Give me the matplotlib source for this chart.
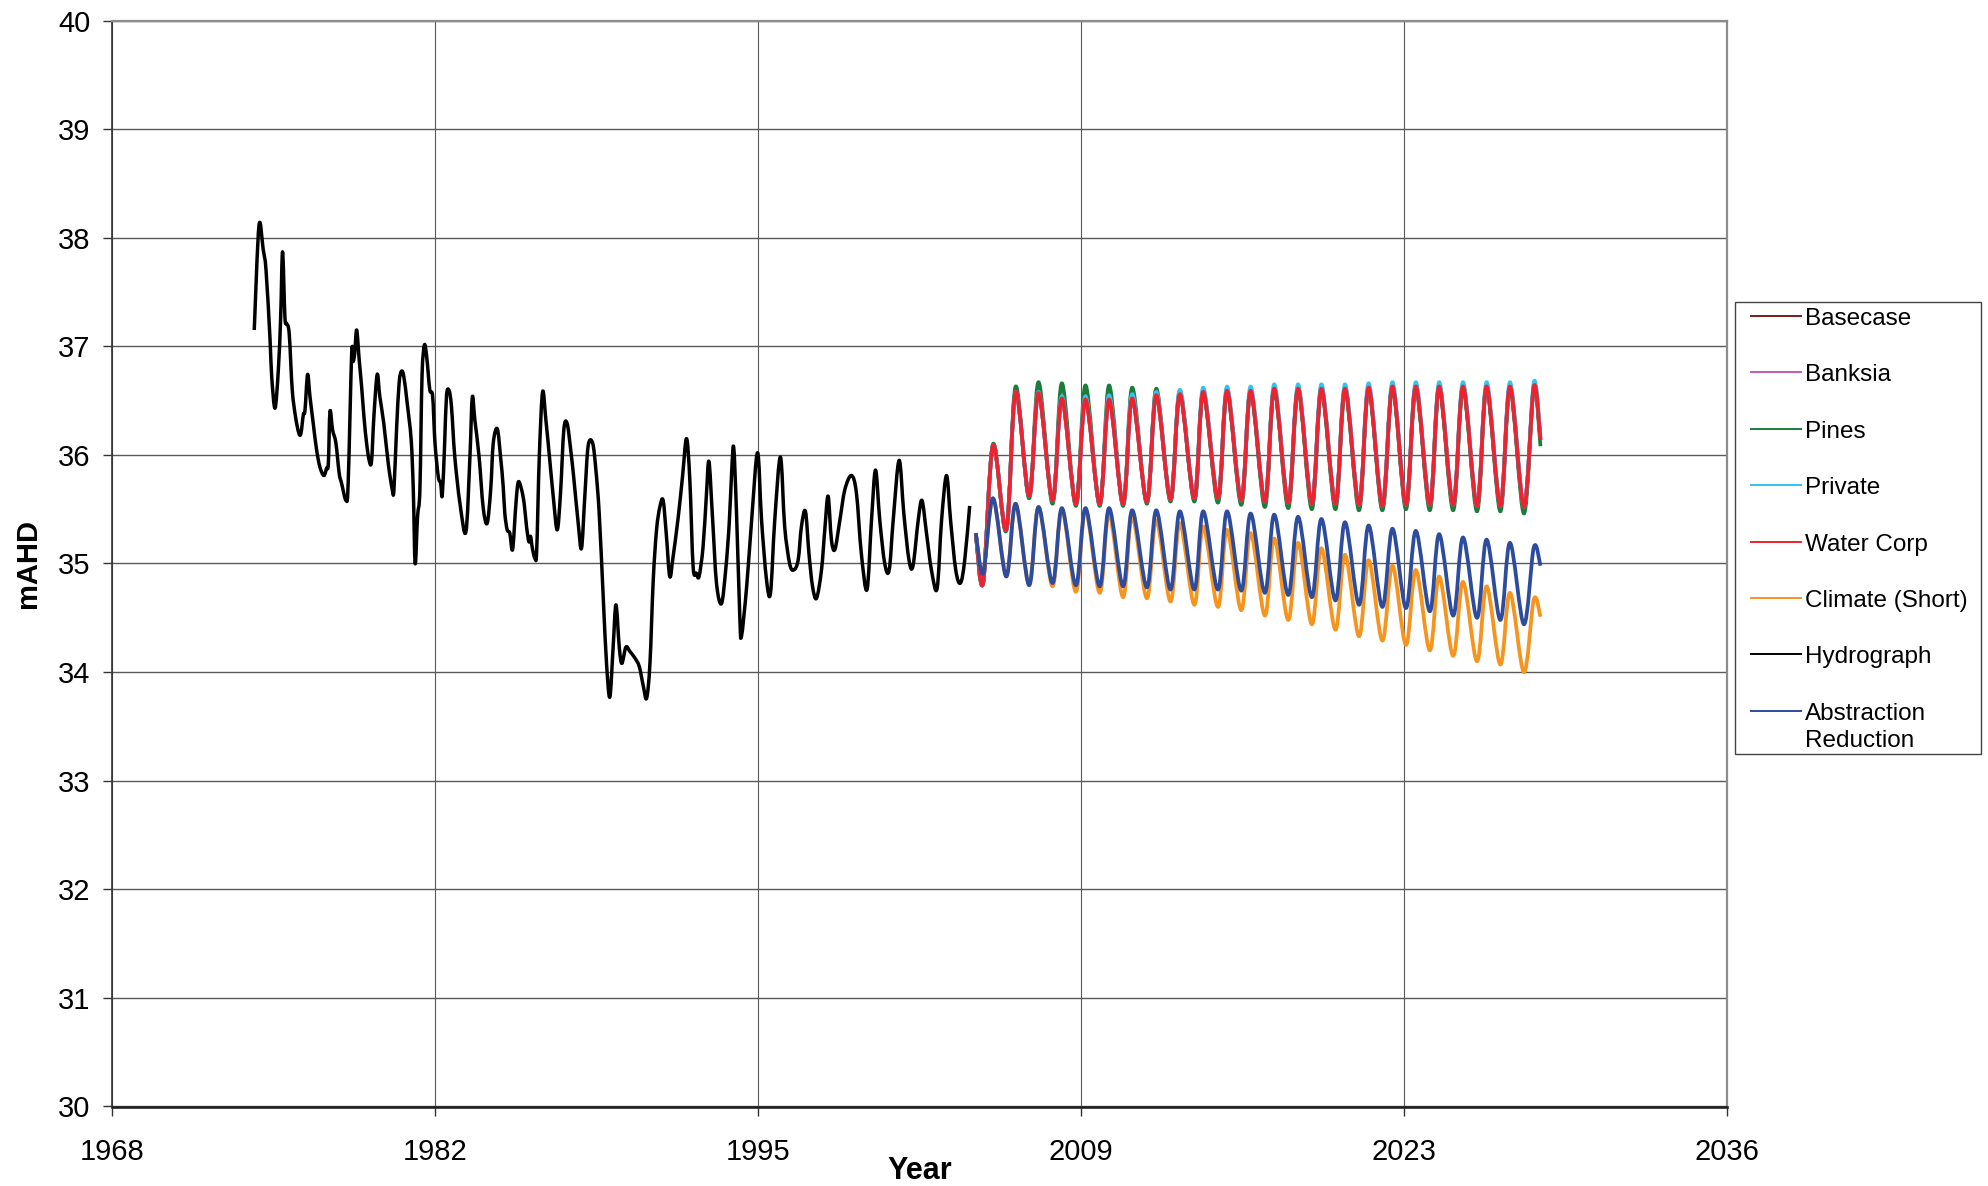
import numpy as np
import matplotlib
matplotlib.use("Agg")
import matplotlib.pyplot as plt
from matplotlib.path import Path
from matplotlib.patches import PathPatch, Rectangle
from matplotlib.lines import Line2D

plt.rcParams['font.family'] = ['Liberation Sans', 'DejaVu Sans']

# ---------------------------------------------------------------- data
# Observed bore hydrograph (decimal year, water level in mAHD)
hydro_year = [
    1974.37, 1974.57, 1974.75, 1974.87, 1975.04, 1975.11, 1975.25, 1975.39, 1975.49, 1975.57,
    1975.67, 1975.74, 1975.85, 1975.98, 1976.12, 1976.26, 1976.35, 1976.45, 1976.52, 1976.63,
    1976.73, 1976.87, 1977.01, 1977.15, 1977.32, 1977.44, 1977.51, 1977.58, 1977.69, 1977.83,
    1977.97, 1978.07, 1978.26, 1978.35, 1978.50, 1978.56, 1978.63, 1978.71, 1978.82, 1978.92,
    1979.02, 1979.13, 1979.24, 1979.34, 1979.44, 1979.58, 1979.69, 1979.86, 1980.05, 1980.22,
    1980.29, 1980.40, 1980.51, 1980.61, 1980.71, 1980.85, 1981.02, 1981.11, 1981.19, 1981.29,
    1981.39, 1981.48, 1981.58, 1981.68, 1981.81, 1981.93, 1982.03, 1982.17, 1982.27, 1982.34,
    1982.44, 1982.52, 1982.63, 1982.73, 1982.87, 1983.09, 1983.34, 1983.51, 1983.61, 1983.72,
    1983.90, 1984.07, 1984.24, 1984.39, 1984.50, 1984.67, 1984.81, 1984.92, 1984.99, 1985.09,
    1985.20, 1985.32, 1985.46, 1985.56, 1985.70, 1985.81, 1985.91, 1986.01, 1986.08, 1986.15,
    1986.26, 1986.34, 1986.45, 1986.59, 1986.73, 1986.87, 1987.04, 1987.21, 1987.35, 1987.49,
    1987.63, 1987.78, 1987.92, 1988.10, 1988.24, 1988.38, 1988.52, 1988.71, 1988.85, 1988.99,
    1989.16, 1989.30, 1989.44, 1989.58, 1989.70, 1989.84, 1989.95, 1990.12, 1990.29, 1990.50,
    1990.69, 1990.86, 1991.00, 1991.14, 1991.28, 1991.42, 1991.56, 1991.70, 1991.84, 1991.98,
    1992.12, 1992.34, 1992.52, 1992.69, 1992.83, 1992.97, 1993.11, 1993.22, 1993.39, 1993.53,
    1993.64, 1993.79, 1993.96, 1994.17, 1994.35, 1994.50, 1994.60, 1994.69, 1994.81, 1994.95,
    1995.02, 1995.24, 1995.45, 1995.70, 1995.87, 1996.08, 1996.25, 1996.43, 1996.67, 1996.85,
    1997.06, 1997.23, 1997.42, 1997.56, 1997.73, 1997.88, 1998.03, 1998.20, 1998.41, 1998.55,
    1998.69, 1998.83, 1998.98, 1999.19, 1999.40, 1999.68, 1999.89, 2000.10, 2000.34, 2000.53,
    2000.70, 2000.88, 2001.09, 2001.28, 2001.45, 2001.70, 2001.90, 2002.12, 2002.29, 2002.51,
    2002.67, 2002.86, 2003.07, 2003.31, 2003.50, 2003.71, 2003.88, 2004.10, 2004.30, 2004.48,
    2004.69,
]
hydro_level = [
    37.15, 38.11, 37.89, 37.70, 37.06, 36.72, 36.43, 36.78, 37.27, 37.87,
    37.27, 37.21, 37.12, 36.60, 36.35, 36.20, 36.20, 36.37, 36.41, 36.74,
    36.54, 36.29, 36.05, 35.89, 35.81, 35.88, 35.92, 36.40, 36.23, 36.11,
    35.83, 35.74, 35.58, 35.74, 36.94, 36.86, 36.94, 37.15, 36.87, 36.63,
    36.35, 36.11, 35.95, 35.94, 36.35, 36.74, 36.54, 36.29, 35.92, 35.68,
    35.68, 36.23, 36.66, 36.77, 36.72, 36.48, 36.14, 35.68, 35.00, 35.43,
    35.68, 36.72, 37.01, 36.90, 36.60, 36.54, 36.11, 35.80, 35.74, 35.63,
    36.11, 36.55, 36.59, 36.44, 35.98, 35.55, 35.29, 35.98, 36.53, 36.32,
    35.98, 35.52, 35.37, 35.68, 36.11, 36.24, 35.98, 35.71, 35.46, 35.31,
    35.28, 35.13, 35.55, 35.75, 35.68, 35.55, 35.34, 35.20, 35.25, 35.15,
    35.05, 35.12, 35.98, 36.58, 36.32, 36.01, 35.62, 35.31, 35.65, 36.23,
    36.29, 36.05, 35.77, 35.37, 35.14, 35.62, 36.08, 36.11, 35.86, 35.46,
    34.69, 34.08, 33.77, 34.23, 34.62, 34.23, 34.08, 34.23, 34.19, 34.13,
    34.05, 33.87, 33.76, 34.08, 34.85, 35.31, 35.52, 35.58, 35.25, 34.88,
    35.06, 35.43, 35.80, 36.15, 35.77, 34.97, 34.91, 34.88, 35.15, 35.62,
    35.94, 35.43, 34.82, 34.63, 34.94, 35.37, 35.83, 36.07, 35.46, 34.50,
    34.33, 34.79, 35.40, 36.02, 35.40, 34.85, 34.73, 35.40, 35.98, 35.34,
    35.00, 34.94, 35.03, 35.34, 35.48, 35.09, 34.79, 34.68, 34.94, 35.31,
    35.62, 35.22, 35.13, 35.40, 35.68, 35.81, 35.65, 35.09, 34.76, 35.40,
    35.86, 35.40, 35.00, 34.94, 35.40, 35.95, 35.46, 35.03, 34.98, 35.40,
    35.58, 35.28, 34.94, 34.77, 35.40, 35.81, 35.40, 34.94, 34.82, 35.03,
    35.53,
]

# Model scenario output: seasonal high / low water levels (mAHD)
scenario_year = [
    2004.95, 2005.26, 2005.68, 2006.24, 2006.64, 2007.21, 2007.61,
    2008.20, 2008.60, 2009.19, 2009.60, 2010.20, 2010.60, 2011.19, 2011.58,
    2012.20, 2012.60, 2013.20, 2013.60, 2014.21, 2014.59, 2015.21, 2015.60,
    2016.20, 2016.60, 2017.20, 2017.60, 2018.19, 2018.61, 2019.19, 2019.60,
    2020.19, 2020.60, 2021.19, 2021.60, 2022.18, 2022.61, 2023.18, 2023.60,
    2024.19, 2024.59, 2025.18, 2025.60, 2026.19, 2026.60, 2027.18, 2027.59,
    2028.18, 2028.60, 2028.88,
]
water_corp = [
    35.28, 34.82, 36.09, 35.31, 36.58, 35.62, 36.57,
    35.58, 36.52, 35.55, 36.51, 35.55, 36.51, 35.55, 36.52,
    35.57, 36.55, 35.59, 36.56, 35.60, 36.58, 35.60, 36.59,
    35.58, 36.59, 35.57, 36.61, 35.56, 36.61, 35.55, 36.61,
    35.55, 36.61, 35.54, 36.62, 35.53, 36.63, 35.54, 36.63,
    35.54, 36.63, 35.54, 36.63, 35.53, 36.63, 35.53, 36.63,
    35.52, 36.63, 36.14,
]
# Basecase and Banksia runs coincide with the Water Corp run
basecase = list(water_corp)
banksia = list(water_corp)
pines = [
    35.28, 34.82, 36.10, 35.30, 36.63, 35.60, 36.67,
    35.55, 36.66, 35.53, 36.64, 35.53, 36.64, 35.53, 36.62,
    35.55, 36.61, 35.57, 36.59, 35.57, 36.57, 35.56, 36.58,
    35.54, 36.58, 35.52, 36.60, 35.51, 36.60, 35.50, 36.60,
    35.50, 36.60, 35.49, 36.61, 35.49, 36.62, 35.50, 36.62,
    35.49, 36.62, 35.49, 36.62, 35.48, 36.62, 35.48, 36.62,
    35.46, 36.62, 36.08,
]
private = [
    35.28, 34.82, 36.09, 35.31, 36.58, 35.62, 36.58,
    35.58, 36.54, 35.55, 36.54, 35.55, 36.55, 35.55, 36.56,
    35.57, 36.58, 35.59, 36.60, 35.60, 36.62, 35.60, 36.63,
    35.58, 36.63, 35.57, 36.65, 35.56, 36.65, 35.55, 36.65,
    35.55, 36.65, 35.54, 36.66, 35.53, 36.67, 35.54, 36.67,
    35.54, 36.67, 35.54, 36.67, 35.53, 36.67, 35.53, 36.67,
    35.52, 36.67, 36.16,
]
climate_short = [
    35.28, 34.92, 35.60, 34.89, 35.55, 34.81, 35.52,
    34.79, 35.50, 34.74, 35.49, 34.73, 35.46, 34.69, 35.43,
    34.68, 35.40, 34.65, 35.37, 34.62, 35.34, 34.60, 35.31,
    34.57, 35.28, 34.52, 35.23, 34.48, 35.19, 34.44, 35.14,
    34.39, 35.08, 34.33, 35.03, 34.29, 34.98, 34.25, 34.94,
    34.20, 34.88, 34.15, 34.83, 34.10, 34.79, 34.07, 34.73,
    34.00, 34.67, 34.51,
]
abstraction_reduction = [
    35.28, 34.91, 35.60, 34.88, 35.55, 34.80, 35.52,
    34.82, 35.51, 34.80, 35.51, 34.79, 35.51, 34.79, 35.49,
    34.78, 35.49, 34.76, 35.48, 34.76, 35.48, 34.76, 35.48,
    34.75, 35.46, 34.73, 35.45, 34.71, 35.43, 34.69, 35.41,
    34.66, 35.38, 34.62, 35.35, 34.60, 35.32, 34.59, 35.30,
    34.56, 35.27, 34.52, 35.24, 34.50, 35.22, 34.48, 35.19,
    34.44, 35.15, 34.98,
]

series_names = ["Basecase", "Banksia", "Pines", "Private", "Water Corp",
                "Climate (Short)", "Hydrograph", "Abstraction\nReduction"]

# Axis scale: date axis with a 5000-day major unit
x_start = 1968.35
x_step = 13.689
x_tick_labels = ["1968", "1982", "1995", "2009", "2023", "2036"]
y_ticks = [30, 31, 32, 33, 34, 35, 36, 37, 38, 39, 40]

# ---------------------------------------------------------------- styles
colors = ["#7A1E1E", "#C45AB8", "#1B7D3C", "#35C2EC", "#EC2330",
          "#F7941E", "#000000", "#2D4C9E"]
widths = [2.7, 2.7, 2.7, 2.7, 2.7, 2.7, 2.5, 2.7]


def smooth_path(xs, ys):
    """Cubic Bezier path through the points (smoothed line, Catmull-Rom style)."""
    pts = np.column_stack([np.asarray(xs, float), np.asarray(ys, float)])
    n = len(pts)
    verts = [pts[0]]
    codes = [Path.MOVETO]
    for i in range(n - 1):
        p0 = pts[i - 1] if i > 0 else pts[i]
        p1 = pts[i]
        p2 = pts[i + 1]
        p3 = pts[i + 2] if i + 2 < n else pts[i + 1]
        verts += [p1 + (p2 - p0) / 6.0, p2 - (p3 - p1) / 6.0, p2]
        codes += [Path.CURVE4] * 3
    return Path(np.array(verts), codes)


W, H = 1988, 1186
fig = plt.figure(figsize=(W / 100, H / 100), dpi=100)
fig.patch.set_facecolor("white")
ax = fig.add_axes([112.2 / W, 1 - 1106.5 / H, 1615.0 / W, 1086.0 / H])

series = [
    (scenario_year, basecase),
    (scenario_year, banksia),
    (scenario_year, pines),
    (scenario_year, private),
    (scenario_year, water_corp),
    (scenario_year, climate_short),
    (hydro_year, hydro_level),
    (scenario_year, abstraction_reduction),
]
for k, (xs, ys) in enumerate(series):
    patch = PathPatch(smooth_path(xs, ys), fill=False, edgecolor=colors[k],
                      linewidth=widths[k], joinstyle="round", capstyle="butt",
                      zorder=3 + k)
    ax.add_patch(patch)

x_ticks = [x_start + i * x_step for i in range(len(x_tick_labels))]
ax.set_xlim(x_ticks[0], x_ticks[-1])
ax.set_ylim(y_ticks[0], y_ticks[-1])
ax.set_xticks(x_ticks)
ax.set_xticklabels(x_tick_labels)
ax.set_yticks(y_ticks)
ax.set_yticklabels([str(v) for v in y_ticks])

ax.set_axisbelow(True)
ax.grid(True, axis="y", color="#5a5a5a", linewidth=1.0)
ax.grid(True, axis="x", color="#5a5a5a", linewidth=0.8)

for side in ("top", "right"):
    ax.spines[side].set_color("#8c8c8c")
    ax.spines[side].set_linewidth(1.6)
ax.spines["left"].set_color("#333333")
ax.spines["left"].set_linewidth(1.2)
ax.spines["bottom"].set_color("#222222")
ax.spines["bottom"].set_linewidth(1.9)

ax.tick_params(axis="both", direction="out", length=6.5, width=1.0,
               color="#333333", labelsize=21, labelcolor="black")
ax.tick_params(axis="x", pad=16)
ax.tick_params(axis="y", pad=9)

fig.text(919.7 / W, 1 - 1179 / H, "Year", ha="center", va="baseline",
         fontsize=22, fontweight="bold")
fig.text(27.5 / W, 1 - 563.5 / H, "mAHD", ha="center", va="center",
         rotation=90, fontsize=21, fontweight="bold")

# ---------------------------------------------------------------- legend
box_l, box_r, box_t, box_b = 1735.0, 1980.7, 301.7, 754.3
fig.add_artist(Rectangle((box_l / W, 1 - box_b / H), (box_r - box_l) / W,
                         (box_b - box_t) / H, transform=fig.transFigure,
                         facecolor="white", edgecolor="#444444", linewidth=1.0))
entry_baseline = [325.0, 380.7, 437.7, 494.0, 550.7, 606.7, 663.3, 720.0]
line_gap = 26.7
for k, name in enumerate(series_names):
    yb = entry_baseline[k]
    fig.add_artist(Line2D([1750.7 / W, 1800.7 / W], [1 - (yb - 9) / H] * 2,
                          transform=fig.transFigure, color=colors[k],
                          linewidth=1.4))
    for j, part in enumerate(name.split("\n")):
        fig.text(1805 / W, 1 - (yb + j * line_gap) / H, part, ha="left",
                 va="baseline", fontsize=17.5, color="black")

fig.savefig("out.png", dpi=100, facecolor="white")
